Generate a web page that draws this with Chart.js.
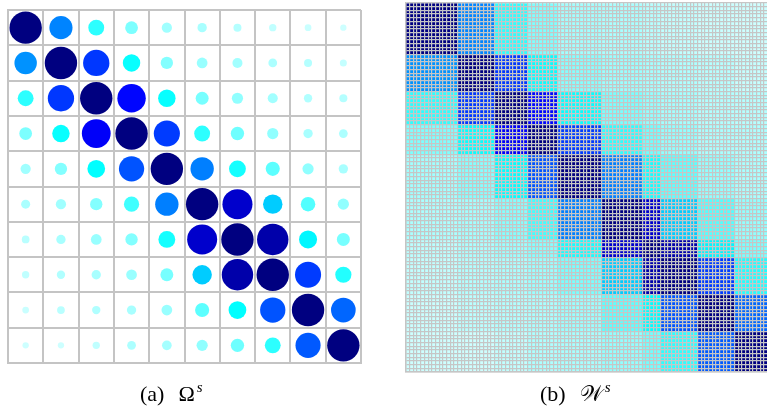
<!DOCTYPE html>
<html>
<head>
<meta charset="utf-8">
<script src="https://cdn.jsdelivr.net/npm/chart.js@4/dist/chart.umd.min.js"></script>
<style>
  html, body { margin: 0; padding: 0; background: #fff; }
  body { width: 767px; height: 413px; overflow: hidden; position: relative; }
  canvas { position: absolute; top: 0; }
  #omegaChart { left: 0; }
  #blockChart { left: 400px; }
  .cap { position: absolute; top: 383px; font-family: "Liberation Serif", "DejaVu Serif", serif;
         font-size: 22px; line-height: 1; color: #000; white-space: nowrap; }
  .cap .gap { display: inline-block; width: 14px; }
  .cap .sup { position: relative; top: -9px; font-size: 15px; font-style: italic; margin-left: 2px; }
</style>
</head>
<body>
<canvas id="omegaChart" width="370" height="413"></canvas>
<canvas id="blockChart" width="380" height="413"></canvas>
<div class="cap" id="capA" style="left:140px">(a)<span class="gap"></span>Ω<span class="sup">s</span></div>
<div class="cap" id="capB" style="left:540px">(b)<span class="gap"></span>𝒲<span class="sup">s</span></div>

<script>
// Group labels (10 groups, row/column order)
const groups = ['1', '2', '3', '4', '5', '6', '7', '8', '9', '10'];

// Group-to-group affinity Ω (rows = groups, columns = groups)
const omega = [
  [1.00, 0.51, 0.24, 0.155, 0.10, 0.083, 0.061, 0.051, 0.043, 0.038],
  [0.48, 1.00, 0.66, 0.29, 0.145, 0.11, 0.096, 0.073, 0.061, 0.047],
  [0.24, 0.66, 1.00, 0.77, 0.29, 0.16, 0.12, 0.096, 0.066, 0.061],
  [0.155, 0.29, 0.79, 1.00, 0.65, 0.24, 0.17, 0.12, 0.083, 0.073],
  [0.10, 0.145, 0.30, 0.61, 1.00, 0.52, 0.27, 0.19, 0.12, 0.083],
  [0.078, 0.10, 0.145, 0.22, 0.52, 1.00, 0.86, 0.36, 0.20, 0.12],
  [0.057, 0.083, 0.11, 0.145, 0.27, 0.86, 1.00, 0.94, 0.31, 0.16],
  [0.051, 0.066, 0.083, 0.11, 0.16, 0.36, 0.94, 1.00, 0.65, 0.25],
  [0.043, 0.057, 0.066, 0.083, 0.11, 0.19, 0.30, 0.61, 1.00, 0.58],
  [0.038, 0.038, 0.051, 0.073, 0.09, 0.12, 0.17, 0.24, 0.60, 1.00]
];

// Number of members in each group (the expanded matrix is 100 x 100)
const groupSizes = [14, 10, 9, 8, 12, 11, 5, 10, 10, 11];

// Colour ramp: pale cyan -> cyan -> azure -> blue -> navy
const colorStops = [
  [0.00, '#e0ffff'], [0.04, '#ccffff'], [0.065, '#b0ffff'], [0.10, '#a0ffff'],
  [0.12, '#90ffff'], [0.15, '#80ffff'], [0.19, '#5cffff'], [0.25, '#22ffff'],
  [0.30, '#00ffff'], [0.36, '#00ccff'], [0.50, '#0088ff'], [0.58, '#0066ff'],
  [0.64, '#0040ff'], [0.78, '#0000ff'], [0.86, '#0000cc'], [0.94, '#0000aa'],
  [1.00, '#000080']
];

function hexToRgb(h) {
  return [parseInt(h.slice(1, 3), 16), parseInt(h.slice(3, 5), 16), parseInt(h.slice(5, 7), 16)];
}
function colorFor(v) {
  if (v <= colorStops[0][0]) return colorStops[0][1];
  for (let k = 1; k < colorStops.length; k++) {
    const [v1, c1] = colorStops[k];
    if (v <= v1) {
      const [v0, c0] = colorStops[k - 1];
      const t = (v - v0) / (v1 - v0);
      const a = hexToRgb(c0), b = hexToRgb(c1);
      const m = a.map((x, i) => Math.round(x + (b[i] - x) * t));
      return `rgb(${m[0]},${m[1]},${m[2]})`;
    }
  }
  return colorStops[colorStops.length - 1][1];
}

const GRID = '#c4c4c4';
const R_MAX = 16.2; // radius of a unit-valued circle, px

// ---- (a) Ω as a circle matrix ----
const bubbles = [];
omega.forEach((row, i) => row.forEach((v, j) => {
  bubbles.push({ x: j + 0.5, y: i + 0.5, r: R_MAX * Math.sqrt(v), v: v });
}));

const axisCommon = (extra) => Object.assign({
  type: 'linear', min: 0, max: groups.length,
  ticks: { display: false, stepSize: 1 },
  grid: { color: GRID, lineWidth: 2, drawTicks: false },
  border: { display: true, color: GRID, width: 2 }
}, extra);

new Chart(document.getElementById('omegaChart'), {
  type: 'bubble',
  data: {
    datasets: [{
      data: bubbles,
      borderWidth: 0,
      backgroundColor: ctx => colorFor(ctx.raw ? ctx.raw.v : 0)
    }]
  },
  options: {
    responsive: false,
    animation: false,
    events: [],
    layout: { autoPadding: false, padding: { left: 8, top: 10, right: 9, bottom: 50 } },
    plugins: { legend: { display: false }, tooltip: { enabled: false } },
    scales: {
      x: axisCommon({}),
      y: axisCommon({ reverse: true })
    }
  }
});

// ---- (b) block-expanded matrix 𝒲 ----
const memberGroup = [];
groupSizes.forEach((n, g) => { for (let k = 0; k < n; k++) memberGroup.push(g); });
const memberLabels = memberGroup.map((g, idx) => String(idx + 1));
const total = memberGroup.length;

const blockSets = groupSizes.map((n, g) => ({
  label: groups[g],
  data: memberLabels.map(() => n),
  backgroundColor: memberGroup.map(cg => colorFor(omega[g][cg])),
  borderWidth: 0,
  barPercentage: 1,
  categoryPercentage: 1
}));

// the fine mesh is drawn above the coloured cells
const meshGrid = { color: '#c6c6c6', lineWidth: 1.2, drawTicks: false, z: 1 };

new Chart(document.getElementById('blockChart'), {
  type: 'bar',
  data: { labels: memberLabels, datasets: blockSets },
  options: {
    responsive: false,
    animation: false,
    events: [],
    layout: { autoPadding: false, padding: { left: 6, top: 3, right: 5, bottom: 41 } },
    plugins: { legend: { display: false }, tooltip: { enabled: false } },
    scales: {
      x: {
        stacked: true,
        ticks: { display: false, autoSkip: false },
        grid: Object.assign({ offset: true }, meshGrid),
        border: { display: true, color: GRID, width: 1.5, z: 1 }
      },
      y: {
        stacked: true, reverse: true, min: 0, max: total,
        ticks: { display: false, stepSize: 1 },
        grid: Object.assign({}, meshGrid),
        border: { display: true, color: GRID, width: 1.5, z: 1 }
      }
    }
  }
});
</script>
</body>
</html>
